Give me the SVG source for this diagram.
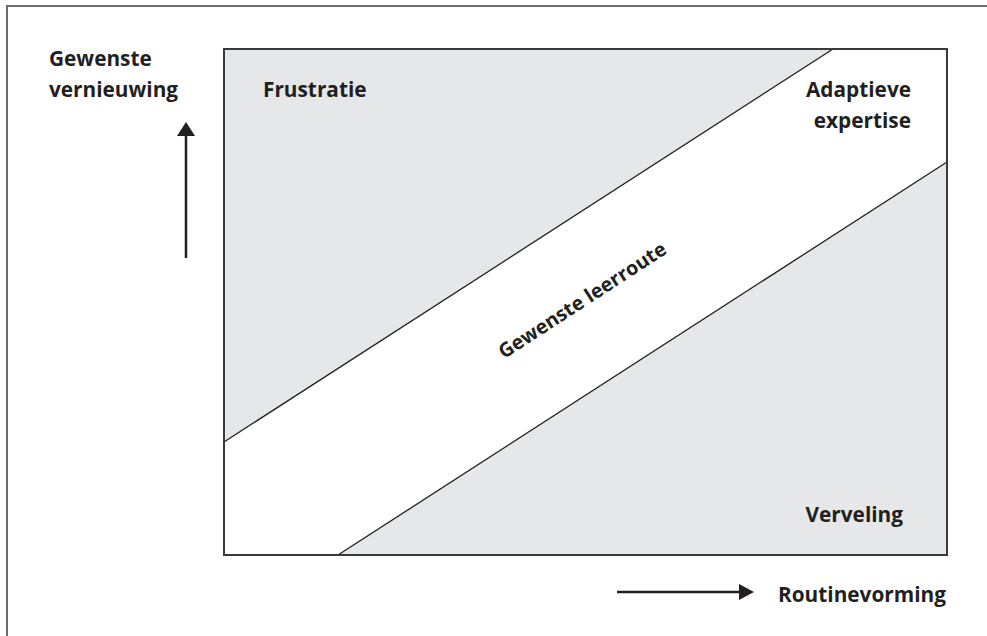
<svg xmlns="http://www.w3.org/2000/svg" width="987" height="636" viewBox="0 0 987 636">
<style>
.t{font-family:"Open Sans","Liberation Sans",sans-serif;font-weight:700;font-size:20.8px;fill:#231f20}
.band{fill:#e6e7e8;stroke:none}
.edge{stroke:#231f20;stroke-width:1.3;fill:none}
.frame{stroke:#6d6e70;stroke-width:2;fill:none}
.arrow{stroke:#231f20;stroke-width:2.5;fill:none}
</style>
<rect id="background" x="0" y="0" width="987" height="636" fill="#ffffff"/>
<g id="frame">
<path class="frame" d="M7,640 V6 H990"/>
</g>
<g id="chart">
<rect x="224" y="49" width="723" height="506" fill="#ffffff"/>
<polygon class="band" points="224,49 833,49 224,442"/>
<polygon class="band" points="338,555 947,162 947,555"/>
<line class="edge" x1="224" y1="442" x2="833" y2="49"/>
<line class="edge" x1="338" y1="555" x2="947" y2="162"/>
<rect x="224" y="49" width="723" height="506" fill="none" stroke-width="2" stroke="#3a3a3a"/>
</g>
<g id="connectors">
<line class="arrow" x1="186" y1="258" x2="186" y2="136"/>
<path d="M177,136 L186,122 L195,136 Z" fill="#231f20"/>
<line class="arrow" x1="617" y1="592" x2="740" y2="592"/>
<path d="M739,584 L754,592 L739,600 Z" fill="#231f20"/>
</g>
<g id="label-y">
<text class="t" x="49" y="66">Gewenste</text>
<text class="t" x="49" y="97">vernieuwing</text>
</g>
<g id="label-frustratie">
<text class="t" x="263" y="97">Frustratie</text>
</g>
<g id="label-adaptieve">
<text class="t" x="911" y="97" text-anchor="end">Adaptieve</text>
<text class="t" x="911" y="128" text-anchor="end">expertise</text>
</g>
<g id="label-route">
<text class="t" x="586" y="306" text-anchor="middle" font-size="19.8" style="font-size:19.8px" transform="rotate(-33 586 306)">Gewenste leerroute</text>
</g>
<g id="label-verveling">
<text class="t" x="903" y="522" text-anchor="end">Verveling</text>
</g>
<g id="label-x">
<text class="t" x="778" y="602">Routinevorming</text>
</g>
</svg>
